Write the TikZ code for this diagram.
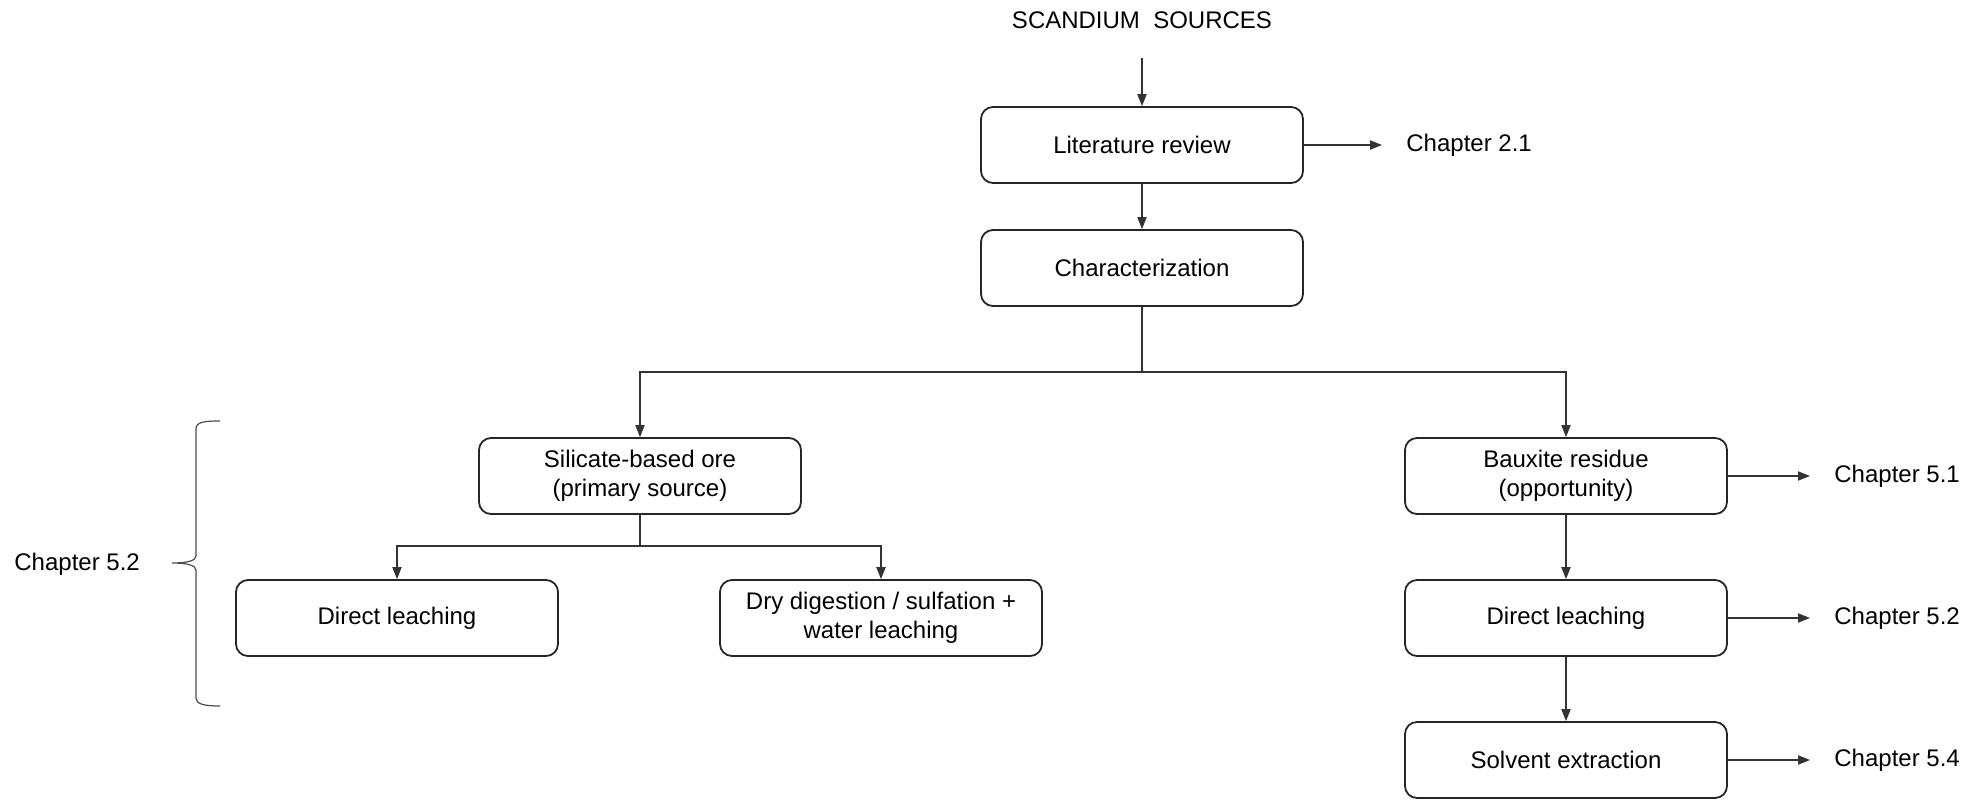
\documentclass[tikz,border=0pt]{standalone}
\usepackage{fontspec}
\setmainfont{Liberation Sans}
\usetikzlibrary{arrows.meta}
\begin{document}
\begin{tikzpicture}[x=0.5pt,y=-0.5pt,
  font=\fontsize{12}{14.5}\selectfont,
  stepbox/.style={draw=black!85,line width=0.9pt,rounded corners=6pt,
    minimum width=161pt,minimum height=38pt,align=center,inner sep=2pt},
  chap/.style={anchor=west,inner xsep=12pt,inner ysep=0pt},
  arr/.style={draw=black!80,line width=0.6pt,-{Triangle[length=6pt,width=4.6pt]}},
  conn/.style={draw=black!80,line width=0.6pt}]
\useasboundingbox (0,0) rectangle (1982,799);

% main column
\node[inner sep=0pt] (title) at (1142,20) {SCANDIUM\ \ SOURCES};
\node[stepbox] (lit) at (1142,145) {Literature review};
\node[stepbox] (char) at (1142,268) {Characterization};
\node[chap] (c21) at (1382,145) {Chapter 2.1};

% two source branches
\node[stepbox] (sil) at (640,476) {Silicate-based ore\\(primary source)};
\node[stepbox] (baux) at (1566,476) {Bauxite residue\\(opportunity)};
\node[chap] (c51) at (1810,476) {Chapter 5.1};

% silicate routes
\node[stepbox] (dl1) at (397,618) {Direct leaching};
\node[stepbox] (dry) at (881,618) {Dry digestion / sulfation +\\water leaching};

% bauxite routes
\node[stepbox] (dl2) at (1566,618) {Direct leaching};
\node[chap] (c52r) at (1810,618) {Chapter 5.2};
\node[stepbox] (sx) at (1566,760) {Solvent extraction};
\node[chap] (c54) at (1810,760) {Chapter 5.4};

% brace label on the left
\node[anchor=west,inner sep=0pt] (c52l) at (14,564) {Chapter 5.2};
\draw[black!70,line width=0.6pt]
  (220,421) .. controls (204,421) and (196,422) .. (196,429)
  -- (196,556) .. controls (196,561) and (186,563) .. (172,563)
  .. controls (186,563) and (196,565) .. (196,570)
  -- (196,698) .. controls (196,704) and (204,706) .. (220,706);

% connectors
\draw[arr,shorten <=14.5pt] (title) -- (lit);
\draw[arr] (lit) -- (char);
\draw[arr] (lit.east) -- (c21.west);

\coordinate (br) at (1142,372);
\draw[conn] (char.south) -- (br);
\draw[arr] (br) -| (sil.north);
\draw[arr] (br) -| (baux.north);
\draw[arr] (baux.east) -- (c51.west);

\coordinate (sbr) at (640,546);
\draw[conn] (sil.south) -- (sbr);
\draw[arr] (sbr) -| (dl1.north);
\draw[arr] (sbr) -| (dry.north);

\draw[arr] (baux) -- (dl2);
\draw[arr] (dl2.east) -- (c52r.west);
\draw[arr] (dl2) -- (sx);
\draw[arr] (sx.east) -- (c54.west);
\end{tikzpicture}
\end{document}
